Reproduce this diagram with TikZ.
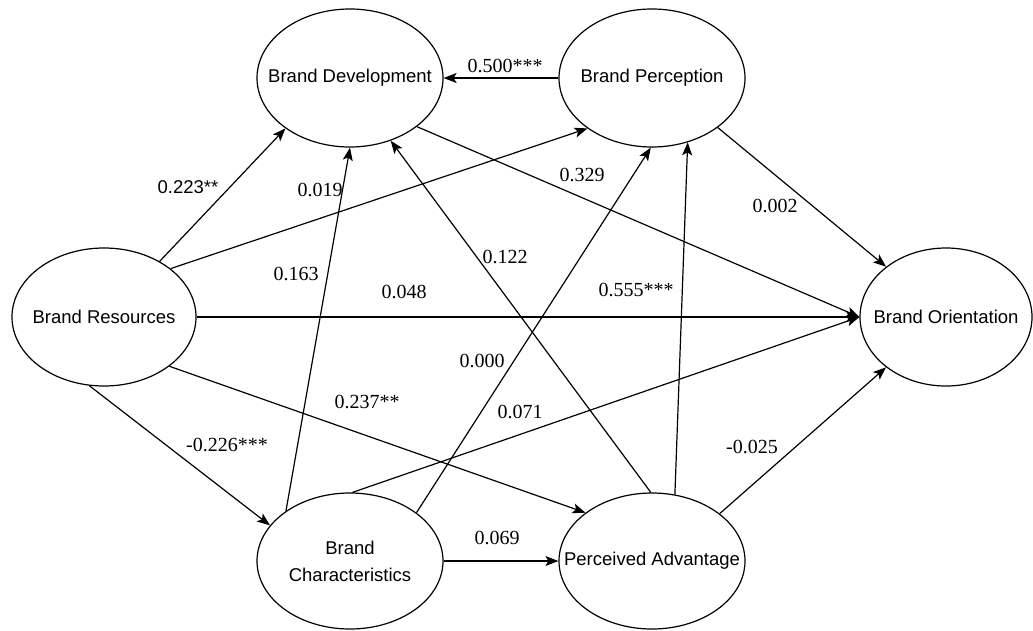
\documentclass[tikz,border=0pt]{standalone}
\usepackage{fontspec}
\setmainfont{Liberation Serif}
\setsansfont{Liberation Sans}
\usetikzlibrary{arrows.meta,shapes.geometric}
\begin{document}
\begin{tikzpicture}[x=1pt,y=-1pt,
  ell/.style={draw, ellipse, line width=1.2pt, minimum width=186pt, minimum height=138pt,
    inner sep=0pt, font=\sffamily\fontsize{18.5}{27}\selectfont, align=center},
  arr/.style={line width=1.2pt, -{Stealth[length=13pt,width=10pt,inset=3pt]}},
  coef/.style={font=\fontsize{20}{24}\selectfont, inner sep=0pt},
  coefs/.style={font=\sffamily\fontsize{18.5}{22}\selectfont, inner sep=0pt}]
\useasboundingbox (0,0) rectangle (1033,630);

% constructs
\node[ell] (bd) at (350,78) {\makebox[0pt]{Brand Development}};
\node[ell] (bp) at (652,78) {\makebox[0pt]{Brand Perception}};
\node[ell, minimum width=184pt] (br) at (104,317) {\makebox[0pt]{Brand Resources}};
\node[ell, minimum width=172pt] (bo) at (946,317) {\makebox[0pt]{Brand Orientation}};
\node[ell, minimum height=136pt] (bc) at (350,561) {Brand\\Characteristics};
\node[ell, minimum height=136pt] (pa) at (652,561) {\makebox[0pt]{Perceived Advantage}};

% paths
\draw[arr] (br.45.5) -- (bd.-142);
\draw[arr] (br.36) -- (bp.-142);
\draw[arr] (br.east) -- (bo.west);
\draw[arr] (br.-102) -- (bc.156);
\draw[arr] (br.-37) -- (pa.144.4);
\draw[arr] (bp.west) -- (bd.east);
\draw[arr] (bd.-36.5) -- (bo.west);
\draw[arr] (bp.-37.4) -- (bo.140.8);
\draw[arr] (bc.142.6) -- (bd.south);
\draw[arr] (bc.36.3) -- (bp.-91);
\draw[arr] (bc.88.3) -- (bo.west);
\draw[arr] (bc.east) -- (pa.west);
\draw[arr] (pa.91) -- (bd.-57);
\draw[arr] (pa.71.3) -- (bp.-61.5);
\draw[arr] (pa.35.8) -- (bo.-140.7);

% coefficients
\node[coefs] (c1) at (188,187) {0.223**};
\node[coef] (c2) at (320,190) {0.019};
\node[coef] (c3) at (296,274) {0.163};
\node[coef] (c4) at (404,292) {0.048};
\node[coef] (c5) at (505,257) {0.122};
\node[coef] (c6) at (505,66) {0.500***};
\node[coef] (c7) at (582,175) {0.329};
\node[coef] (c8) at (775,206) {0.002};
\node[coef] (c9) at (636,290) {0.555***};
\node[coef] (c10) at (482,361) {0.000};
\node[coef] (c11) at (367,402) {0.237**};
\node[coef] (c12) at (520,412) {0.071};
\node[coef] (c13) at (227,445) {-0.226***};
\node[coef] (c14) at (497,538) {0.069};
\node[coef] (c15) at (752,447) {-0.025};
\end{tikzpicture}
\end{document}
